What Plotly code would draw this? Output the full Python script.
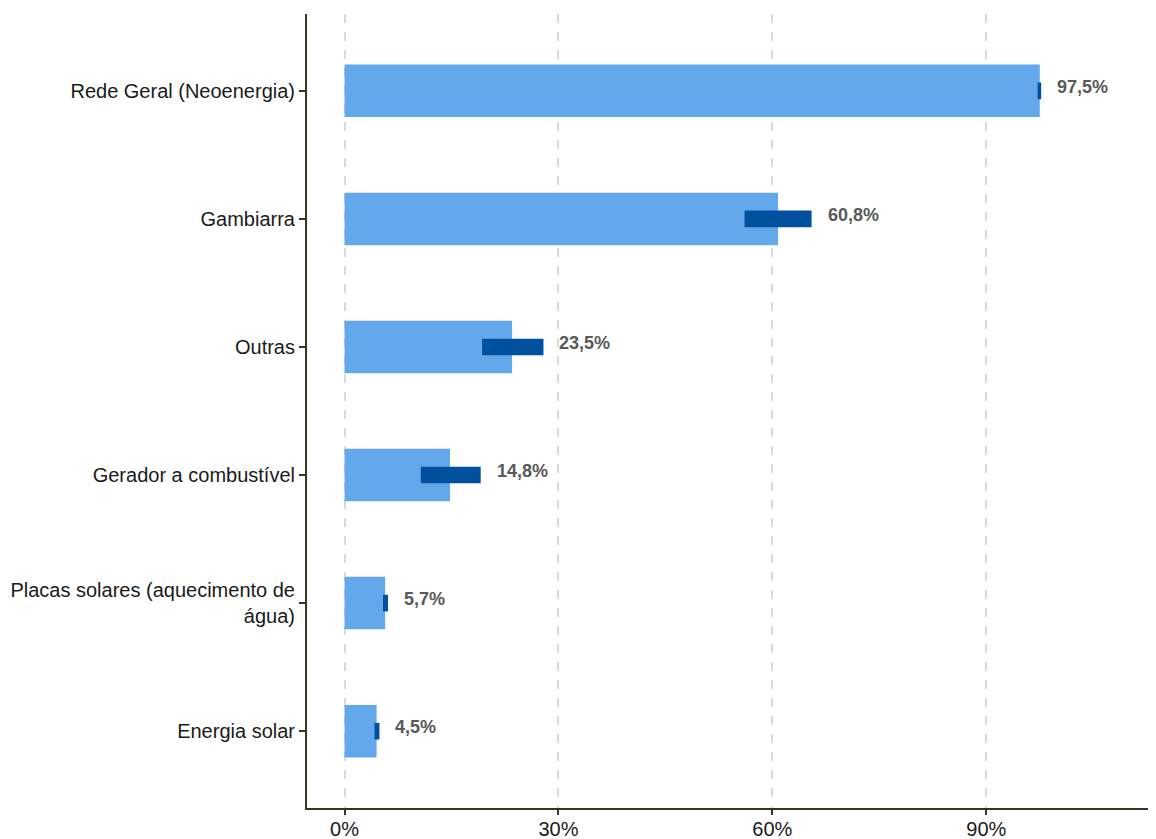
import plotly.graph_objects as go

categories = ["Rede Geral (Neoenergia)", "Gambiarra", "Outras", "Gerador a combustível",
              "Placas solares (aquecimento de<br>água)", "Energia solar"]
values = [97.5, 60.8, 23.5, 14.8, 5.7, 4.5]
lower = [97.2, 56.1, 19.3, 10.7, 5.4, 4.2]
upper = [97.7, 65.5, 27.9, 19.1, 6.1, 4.9]
labels = ["97,5%", "60,8%", "23,5%", "14,8%", "5,7%", "4,5%"]
x_ticks = [0, 30, 60, 90]
x_tick_text = ["0%", "30%", "60%", "90%"]

fig = go.Figure()
fig.add_trace(go.Bar(
    y=categories, x=values, orientation="h", width=0.41,
    marker=dict(color="#64a8ec", line=dict(width=0)),
    hoverinfo="skip", showlegend=False,
))
fig.add_trace(go.Bar(
    y=categories, x=[u - l for u, l in zip(upper, lower)], base=lower,
    orientation="h", width=0.13,
    marker=dict(color="#0050a0", line=dict(width=0)),
    hoverinfo="skip", showlegend=False,
))

for c, u, t in zip(categories, upper, labels):
    fig.add_annotation(x=u, y=c, text="<b>" + t + "</b>", showarrow=False,
                       xanchor="left", xshift=14, yshift=4,
                       font=dict(family="Liberation Sans, Arial", size=18, color="#595959"))

fig.update_layout(
    width=1148, height=831,
    margin=dict(l=299, r=0, t=6, b=31),
    barmode="overlay",
    plot_bgcolor="white", paper_bgcolor="white",
    font=dict(family="Liberation Sans, Arial", size=20, color="#1a1a1a"),
    xaxis=dict(
        range=[-5.26, 113.8], tickvals=x_ticks, ticktext=x_tick_text,
        automargin=False, ticklabelstandoff=-3,
        showgrid=True, gridcolor="#d9d9d9", gridwidth=2, griddash="dash",
        zeroline=False, showline=True, linecolor="#3a3427", linewidth=2,
        ticks="outside", ticklen=5, tickcolor="#3a3427", tickwidth=1.5,
        tickfont=dict(size=20, color="#1a1a1a"),
    ),
    yaxis=dict(
        categoryorder="array", categoryarray=categories,
        autorange=False, range=[5.6, -0.6], automargin=False,
        showgrid=False, zeroline=False, showline=True, linecolor="#3a3427", linewidth=2,
        ticks="outside", ticklen=6, tickcolor="#3a3427", tickwidth=1.5,
        tickfont=dict(size=20, color="#1a1a1a"),
    ),
)

fig.write_html("out.html")
